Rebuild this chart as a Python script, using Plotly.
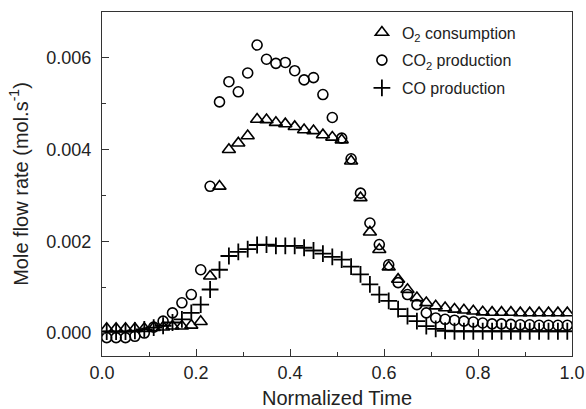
import plotly.graph_objects as go

time = [0.01, 0.03, 0.05, 0.07, 0.09, 0.11, 0.13, 0.15, 0.17, 0.19,
        0.21, 0.23, 0.25, 0.27, 0.29, 0.31, 0.33, 0.35, 0.37, 0.39,
        0.41, 0.43, 0.45, 0.47, 0.49, 0.51, 0.53, 0.55, 0.57, 0.59,
        0.61, 0.63, 0.65, 0.67, 0.69, 0.71, 0.73, 0.75, 0.77, 0.79,
        0.81, 0.83, 0.85, 0.87, 0.89, 0.91, 0.93, 0.95, 0.97, 0.99]

o2_consumption = [0.0001, 0.0001, 0.0001, 0.0001, 0.0001, 0.00012, 0.00013, 0.00015, 0.00015, 0.00017,
                  0.00025, 0.00124, 0.0032, 0.0040, 0.00414, 0.0043, 0.00466, 0.00465, 0.00459, 0.00456,
                  0.0045, 0.00443, 0.00441, 0.00432, 0.00427, 0.00421, 0.00375, 0.00295, 0.0022, 0.00182,
                  0.00144, 0.00117, 0.00095, 0.00077, 0.00066, 0.00059, 0.00055, 0.00052, 0.0005, 0.00048,
                  0.00046, 0.00045, 0.00045, 0.00045, 0.00044, 0.00044, 0.00044, 0.00044, 0.00044, 0.00044]

co2_production = [-0.0001, -0.0001, -0.0001, -0.00007, 0.0, 0.00013, 0.00026, 0.00044, 0.00066, 0.00084,
                  0.00138, 0.0032, 0.00504, 0.00548, 0.00526, 0.00567, 0.00628, 0.00597, 0.00588, 0.0059,
                  0.00572, 0.00552, 0.00557, 0.0052, 0.0047, 0.00425, 0.0038, 0.00305, 0.0024, 0.00193,
                  0.00149, 0.0011, 0.00084, 0.00062, 0.00044, 0.00033, 0.0003, 0.00028, 0.00026, 0.00024,
                  0.00022, 0.0002, 0.0002, 0.00019, 0.00018, 0.00018, 0.00017, 0.00017, 0.00017, 0.00017]

co_production = [0.00003, 0.00003, 0.00003, 0.00005, 0.00008, 0.00012, 0.00016, 0.00023, 0.0003, 0.00044,
                 0.00062, 0.00095, 0.00138, 0.00168, 0.00177, 0.00183, 0.00192, 0.00193, 0.0019, 0.0019,
                 0.0019, 0.00186, 0.0018, 0.00173, 0.00166, 0.0016, 0.00145, 0.00128, 0.00106, 0.00084,
                 0.0007, 0.00052, 0.00037, 0.00026, 0.00015, 0.00009, 0.00005, 0.00004, 0.00004, 0.00004,
                 0.00004, 0.00004, 0.00004, 0.00004, 0.00004, 0.00004, 0.00004, 0.00004, 0.00004, 0.00004]

series_names = ["O<sub>2</sub> consumption", "CO<sub>2</sub> production", "CO production"]

FONT = "Liberation Sans, Arial, sans-serif"

fig = go.Figure()
fig.add_trace(go.Scatter(x=time, y=o2_consumption, mode="markers", name=series_names[0],
                         legendgroup="a",
                         marker=dict(symbol="triangle-up-open", size=11.5, color="black",
                                     line=dict(color="black", width=1.6))))
fig.add_trace(go.Scatter(x=time, y=co2_production, mode="markers", name=series_names[1],
                         legendgroup="b",
                         marker=dict(symbol="circle-open", size=10, color="black",
                                     line=dict(color="black", width=1.6))))
fig.add_trace(go.Scatter(x=time, y=co_production, mode="markers", name=series_names[2],
                         legendgroup="c",
                         marker=dict(symbol="cross-thin-open", size=12, color="black",
                                     line=dict(color="black", width=1.8))))

axis_font = dict(family=FONT, size=18, color="#222")
title_font = dict(family=FONT, size=20, color="#222")

fig.update_layout(
    width=586, height=409,
    margin=dict(l=102, r=14, t=12, b=53, autoexpand=False),
    paper_bgcolor="white", plot_bgcolor="white",
    font=dict(family=FONT, color="#222"),
    showlegend=True,
    legend=dict(x=0.553, y=0.99, xanchor="left", yanchor="top",
                bgcolor="rgba(0,0,0,0)", tracegroupgap=4,
                font=dict(family=FONT, size=16, color="#222")),
    xaxis=dict(range=[0, 1], dtick=0.2, tick0=0, tickformat=".1f",
               ticks="inside", ticklen=7, tickwidth=1.2, tickcolor="#333",
               minor=dict(dtick=0.1, ticks="inside", ticklen=4, tickwidth=1.2, tickcolor="#333"),
               showline=True, linecolor="#333", linewidth=1.3, mirror=True,
               showgrid=False, zeroline=False, tickfont=axis_font,
               title=dict(text="Normalized Time", font=title_font, standoff=11)),
    yaxis=dict(range=[-0.0005, 0.007], dtick=0.002, tick0=0, tickformat=".3f",
               ticks="inside", ticklen=7, tickwidth=1.2, tickcolor="#333",
               minor=dict(dtick=0.001, ticks="inside", ticklen=4, tickwidth=1.2, tickcolor="#333"),
               showline=True, linecolor="#333", linewidth=1.3, mirror=True,
               showgrid=False, zeroline=False, tickfont=axis_font, ticklabelstandoff=6,
               title=dict(text="Mole flow rate (mol.s<sup>-1</sup>)", font=title_font, standoff=12)),
)

fig.write_html("out.html", config={"displayModeBar": False},
               post_script="document.body.style.margin='0';document.body.style.padding='0';")
